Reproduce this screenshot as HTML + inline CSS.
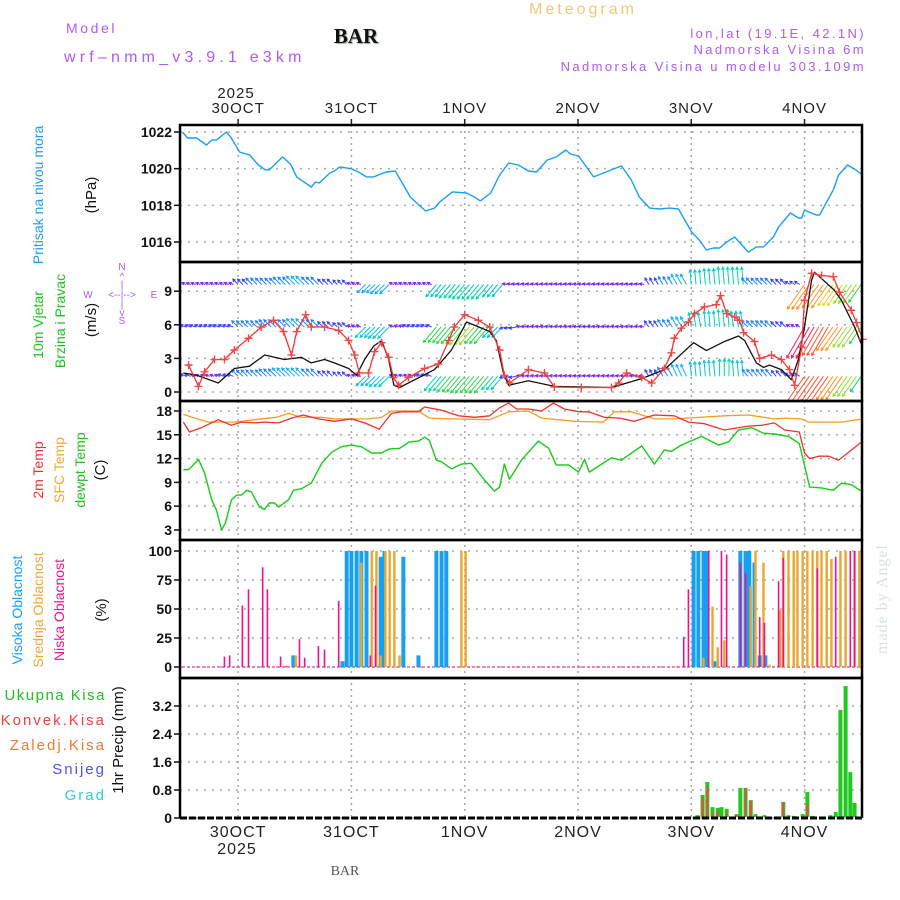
<!DOCTYPE html>
<html><head><meta charset="utf-8"><title>Meteogram BAR</title>
<style>
html,body{margin:0;padding:0;background:#fff;}
svg{display:block;font-family:"Liberation Sans",sans-serif;}
</style></head>
<body>
<svg id="chart" width="900" height="900" viewBox="0 0 900 900" xmlns="http://www.w3.org/2000/svg">
<g id="grid"></g>
<g id="marks"></g>
<g id="frames"></g>
<g id="labels"></g>
<g>
 <text x="66" y="33" font-size="14" fill="#b05af0" letter-spacing="2.6">Model</text>
 <text x="64" y="62" font-size="16" fill="#b05af0" letter-spacing="4.2">wrf–nmm_v3.9.1 e3km</text>
 <text x="356" y="43" font-size="21" font-weight="bold" font-family="Liberation Serif, serif" text-anchor="middle" fill="#111" style="text-shadow:1px 1px 1px #9a9">BAR</text>
 <text x="583" y="14" font-size="16" fill="#f0c878" text-anchor="middle" letter-spacing="3">Meteogram</text>
 <text x="866" y="38" font-size="13" fill="#b05af0" text-anchor="end" letter-spacing="2.4">lon,lat (19.1E, 42.1N)</text>
 <text x="866" y="54" font-size="13" fill="#b05af0" text-anchor="end" letter-spacing="2.4">Nadmorska Visina 6m</text>
 <text x="866" y="71" font-size="13" fill="#b05af0" text-anchor="end" letter-spacing="2.4">Nadmorska Visina u modelu 303.109m</text>
 <text x="236" y="98" font-size="15" fill="#222" text-anchor="middle" letter-spacing="1">2025</text>
 <text x="237" y="854" font-size="16" fill="#222" text-anchor="middle" letter-spacing="1">2025</text>
 <text x="345" y="875" font-size="14" fill="#555" text-anchor="middle" font-family="Liberation Serif, serif">BAR</text>
 <text transform="translate(887,654) rotate(-90)" font-size="16" fill="#d8e4d8" font-family="Liberation Serif, serif" letter-spacing="1">made by Angel</text>
</g>
<g>
 <text transform="translate(43,195) rotate(-90)" font-size="14" fill="#1aa0f0" text-anchor="middle">Pritisak na nivou mora</text>
 <text transform="translate(96,195) rotate(-90)" font-size="15" fill="#111" text-anchor="middle">(hPa)</text>
 <text transform="translate(43,325) rotate(-90)" font-size="14" fill="#20c020" text-anchor="middle">10m Vjetar</text>
 <text transform="translate(65,321) rotate(-90)" font-size="14" fill="#20c020" text-anchor="middle">Brzina i Pravac</text>
 <text transform="translate(96,320) rotate(-90)" font-size="15" fill="#111" text-anchor="middle">(m/s)</text>
 <g fill="#b05af0" font-size="10" text-anchor="middle">
  <text x="122" y="270">N</text><text x="122" y="280">^</text><text x="122" y="288">|</text>
  <text x="88" y="298">W</text><text x="122" y="298">&lt;--|--&gt;</text><text x="154" y="298">E</text>
  <text x="122" y="308">|</text><text x="122" y="316">v</text><text x="122" y="324">S</text>
 </g>
 <text transform="translate(43,470) rotate(-90)" font-size="14" fill="#f03030" text-anchor="middle">2m Temp</text>
 <text transform="translate(64,470) rotate(-90)" font-size="14" fill="#f0a830" text-anchor="middle">SFC Temp</text>
 <text transform="translate(85,470) rotate(-90)" font-size="14" fill="#20c020" text-anchor="middle">dewpt Temp</text>
 <text transform="translate(105,470) rotate(-90)" font-size="15" fill="#111" text-anchor="middle">(C)</text>
 <text transform="translate(22,610) rotate(-90)" font-size="14" fill="#1aa0f0" text-anchor="middle">Visoka Oblacnost</text>
 <text transform="translate(43,610) rotate(-90)" font-size="14" fill="#f0a830" text-anchor="middle">Srednja Oblacnost</text>
 <text transform="translate(64,610) rotate(-90)" font-size="14" fill="#f01090" text-anchor="middle">Niska Oblacnost</text>
 <text transform="translate(106,610) rotate(-90)" font-size="15" fill="#111" text-anchor="middle">(%)</text>
 <text x="106" y="700" font-size="15" fill="#20c020" text-anchor="end" letter-spacing="1.5">Ukupna Kisa</text>
 <text x="106" y="725" font-size="15" fill="#f04040" text-anchor="end" letter-spacing="2">Konvek.Kisa</text>
 <text x="106" y="750" font-size="15" fill="#f07830" text-anchor="end" letter-spacing="2">Zaledj.Kisa</text>
 <text x="106" y="774" font-size="15" fill="#5050f0" text-anchor="end" letter-spacing="2">Snijeg</text>
 <text x="106" y="800" font-size="15" fill="#30d0d0" text-anchor="end" letter-spacing="2">Grad</text>
 <text transform="translate(123,740) rotate(-90)" font-size="15" fill="#111" text-anchor="middle">1hr Precip (mm)</text>
</g>
</svg>
<script>
// ---------- data ----------
const dayHours = [12, 36, 60, 84, 108, 132];
const dayLabels = ["30OCT", "31OCT", "1NOV", "2NOV", "3NOV", "4NOV"];
const pressTicks = [1016, 1018, 1020, 1022];
const windTicks = [0, 3, 6, 9];
const tempTicks = [3, 6, 9, 12, 15, 18];
const cloudTicks = [0, 25, 50, 75, 100];
const precipTicks = [0, 0.8, 1.6, 2.4, 3.2];
const precipTickLabels = ["0", "0.8", "1.6", "2.4", "3.2"];

const pressHours = [0.2,1.3,3.2,5.3,6.4,7.4,9.5,10.4,12.3,14.4,16.3,17.8,18.6,21.4,23.1,24.4,27.5,28.4,29.2,31.4,32.4,33.5,36.0,37.5,39.2,40.7,43.4,45.3,48.5,51.7,53.6,54.7,57.4,60.4,62.1,63.3,65.5,67.4,69.3,71.4,73.5,75.2,77.5,79.4,81.4,82.4,84.1,87.3,93.2,95.3,97.0,99.2,101.3,103.4,105.3,108.1,109.7,111.2,112.7,114.0,115.5,117.2,120.1,121.8,123.3,125.4,126.5,129.0,130.7,131.4,132.0,134.5,135.2,138.1,139.2,141.1,142.6,144.3];
const pressVals = [1022.0,1021.67,1021.67,1021.29,1021.56,1021.56,1022.0,1021.73,1020.91,1020.75,1020.2,1019.93,1019.93,1020.64,1020.25,1019.55,1019.0,1019.27,1019.22,1019.76,1019.87,1020.09,1020.0,1019.82,1019.55,1019.55,1019.82,1019.87,1018.45,1017.69,1017.85,1018.18,1018.73,1018.67,1018.45,1018.24,1018.67,1019.65,1020.31,1020.2,1019.87,1019.82,1020.47,1020.64,1021.02,1020.8,1020.69,1019.55,1020.15,1019.38,1018.45,1017.85,1017.8,1017.85,1017.8,1016.54,1016.1,1015.56,1015.67,1015.67,1016.0,1016.27,1015.45,1015.73,1015.73,1016.27,1016.82,1017.58,1017.31,1017.31,1017.74,1017.47,1017.47,1018.84,1019.65,1020.2,1019.98,1019.65];

const speedHours = [0.4,3.2,7.8,11.2,14.4,17.6,21.8,25.4,27.5,30.3,32.4,35.4,37.1,38.8,40.7,42.4,43.9,45.0,46.2,53.6,57.2,60.4,65.3,66.7,68.2,69.3,73.5,79.0,91.1,97.5,102.3,108.5,111.2,115.0,118.0,119.3,121.8,123.3,124.6,127.1,129.2,130.7,132.0,133.5,134.1,138.3,139.8,142.6,144.3];
const speedVals = [1.7,1.5,0.8,2.1,2.3,3.3,2.9,3.1,2.6,2.9,2.6,2.1,1.5,2.9,4.1,4.6,2.9,0.6,0.4,2.0,3.75,6.25,5.4,4.6,1.7,0.6,1.0,0.5,0.4,1.2,2.0,4.4,3.7,4.5,5.0,4.6,2.6,2.2,2.4,2.0,1.1,2.9,5.8,10.0,10.7,9.1,8.2,5.8,4.0];

const gustHours = [1.5,3.6,4.9,7.0,9.1,11.2,14.2,16.9,19.5,21.6,23.3,24.4,26.3,27.5,30.3,33.3,35.4,36.7,37.7,39.6,40.9,42.4,43.9,44.9,46.0,48.1,51.5,54.4,56.6,57.8,60.0,62.9,65.3,67.4,68.4,69.5,73.5,76.9,79.0,84.7,91.1,92.6,94.3,97.5,99.6,102.3,103.8,104.4,105.9,107.4,108.7,110.8,113.3,114.2,115.5,117.2,118.2,119.1,121.4,122.5,125.0,127.1,128.8,129.9,131.4,132.0,133.5,135.6,138.1,139.4,141.9,143.0,144.3];
const gustVals = [2.4,0.5,1.8,2.9,2.9,3.75,4.8,5.8,6.4,5.4,3.3,5.4,6.9,5.8,5.8,5.5,4.6,3.3,1.7,1.7,3.6,4.4,3.1,1.3,0.6,1.3,2.1,2.5,4.6,5.8,6.9,6.4,5.8,3.75,1.5,0.8,2.0,1.7,0.45,0.4,0.4,0.8,1.7,1.3,0.8,2.1,3.5,4.8,5.7,6.25,7.0,7.6,7.8,8.6,7.0,6.7,6.4,5.3,4.5,3.0,3.3,2.9,2.0,0.6,4.0,8.2,10.6,10.4,10.3,8.9,7.3,6.2,4.7];

// wind arrows: 3-hourly samples (h = 0,3,...,144) for three rows
const windRowLevels = [9.6, 5.8, 1.4];
const windSpeedTop = [2,2,2,2,4,5,5,6,7,6,4,3,2,7,8,2,2,2,10,11,12,12,10,2,2,2,2,2,2,2,2,2,2,4,5,7,9,10,11,11,5,5,4,3,20,19,17,15,14];
const windSpeedMid = [3,3,3,3,5,5,6,6,7,6,4,3,2,9,10,2,3,3,13,14,15,14,9,4,2,2,2,2,2,2,2,2,2,4,5,7,9,10,11,10,5,5,4,2,24,22,19,16,13];
const windSpeedLow = [3,2,2,3,5,5,6,7,7,6,4,3,2,8,9,2,2,3,12,13,14,14,11,4,2,2,2,2,2,2,2,2,2,4,6,8,9,10,11,10,5,5,4,3,22,21,19,16,12];
const windDirTop = [290,290,290,290,315,315,315,315,315,315,315,315,290,225,225,290,290,290,220,220,220,220,220,280,280,280,280,280,280,280,280,280,280,330,330,330,355,355,355,355,315,315,315,300,215,215,215,215,215];
const windDirMid = [290,290,290,290,315,315,315,315,315,315,315,315,290,225,225,290,290,290,220,220,220,220,225,260,280,280,280,280,280,280,280,280,280,325,325,330,350,355,355,350,315,315,315,300,210,210,215,215,215];
const windDirLow = [290,290,290,290,315,315,315,315,315,315,315,315,290,225,225,290,290,290,220,220,220,220,220,260,280,280,280,280,280,280,280,280,280,330,330,335,355,355,0,355,320,320,320,300,215,215,215,215,215];

const t2Hours = [0.4,1.7,4.2,7.8,10.6,12.7,15.5,17.6,20.6,23.3,25.8,29.0,32.4,36.0,38.8,41.9,44.5,46.6,50.2,51.5,55.1,58.7,62.1,65.3,67.4,69.3,71.0,73.5,76.3,78.8,81.1,84.3,86.2,89.6,92.8,95.9,100.2,104.4,107.4,110.8,115.0,120.1,122.9,125.6,127.8,130.9,132.0,133.1,135.0,137.1,139.2,144.3];
const t2Vals = [16.6,15.35,15.9,16.9,16.2,16.6,16.5,16.6,16.5,17.1,17.5,17.0,16.7,17.0,16.5,15.7,17.7,17.9,17.9,18.5,18.1,17.4,17.2,17.4,18.4,19.0,18.25,18.25,18.0,19.0,18.25,17.9,17.9,17.2,17.1,16.7,17.5,17.4,16.6,16.4,15.6,16.1,16.2,16.5,15.6,15.35,12.7,12.0,12.3,12.3,11.8,14.2];
const sfcHours = [0.4,2.8,5.7,11.2,15.5,20.1,22.7,25.4,29.7,32.4,39.6,42.4,44.5,50.2,52.5,57.2,65.3,69.3,73.5,76.3,83.3,89.4,91.7,95.3,100.2,104.4,115.0,120.1,125.6,127.8,131.4,132.8,139.8,144.3];
const sfcVals = [17.6,17.1,16.6,16.6,16.9,17.2,17.7,17.2,17.2,17.0,17.0,17.2,18.0,18.0,17.1,17.0,16.9,17.9,18.0,17.1,16.7,16.6,17.9,17.9,17.0,17.0,17.4,17.5,17.0,17.1,17.0,16.6,16.6,17.0];
const dewHours = [0.4,1.5,3.6,4.9,6.4,7.4,8.5,9.3,10.6,11.7,12.7,13.8,14.8,16.5,17.6,18.6,19.7,20.6,22.7,23.7,25.4,27.5,29.7,31.8,33.9,36.0,38.1,40.3,42.4,43.9,46.2,48.3,50.2,51.5,52.5,54.0,55.1,57.2,59.3,61.4,64.2,66.3,67.4,68.4,69.5,72.0,75.6,77.8,79.4,82.0,84.1,85.4,86.4,91.1,93.2,97.5,100.2,102.3,103.8,105.9,110.2,113.8,115.9,118.0,120.8,123.3,125.6,128.6,130.9,133.1,135.6,138.1,139.8,141.9,144.3];
const dewVals = [10.6,10.6,11.9,10.2,6.8,5.5,3.0,3.9,6.8,7.4,7.4,8.0,7.8,5.9,5.6,6.4,6.4,5.9,6.8,8.0,8.2,8.9,11.4,12.8,13.5,13.7,13.5,12.7,12.7,13.2,13.3,14.1,14.2,14.7,14.3,11.8,11.6,10.7,11.3,11.4,9.3,7.9,8.4,11.3,9.4,11.8,14.2,13.3,11.2,11.2,10.3,11.9,10.3,12.1,11.8,13.6,11.3,13.1,12.9,13.7,14.8,13.7,14.1,15.6,15.9,15.2,15.1,14.8,13.9,8.4,8.3,8.0,8.9,8.7,7.8];

const highCloudHours = [23.7,34.1,35.0,36.0,37.1,38.1,39.2,42.2,43.0,47.0,50.2,54.0,55.1,56.1,108.5,109.5,110.6,111.4,112.9,118.4,119.5,120.3,121.4,122.5,123.7];
const highCloudVals = [10,5,100,100,100,100,100,95,100,95,10,100,100,100,100,100,100,100,5,100,100,100,90,10,10];
const midCloudHours = [24.2,38.1,40.3,41.3,42.2,43.2,44.1,45.1,46.2,59.3,60.2,110.6,112.5,113.6,115.0,120.6,121.6,123.3,124.6,126.9,127.5,128.6,129.7,130.5,131.6,132.6,133.7,134.7,135.6,136.7,137.7,139.6,140.7,142.6,143.6];
const midCloudVals = [10,90,100,100,10,100,100,100,10,100,100,8,52,17,23,70,100,90,2,49,100,100,100,100,100,100,100,100,100,100,93,100,100,100,100];
const lowCloudHours = [9.1,10.2,12.9,14.2,17.2,18.2,21.0,22.2,25.0,26.1,29.0,30.3,33.3,40.0,41.1,106.4,107.4,111.7,114.4,115.5,118.4,119.5,122.5,123.5,126.5,127.5,134.7,138.6,141.7,142.6];
const lowCloudVals = [9,10,53,67,86,67,9,1,24,8,18,15,57,10,70,26,67,100,100,97,90,81,43,38,74,94,85,95,100,100];

const precipHours = [30.1,109.3,110.4,111.4,112.5,113.6,114.4,115.5,116.5,117.6,118.4,119.5,120.6,121.6,123.5,127.5,128.6,129.7,131.6,132.6,133.7,137.5,138.6,139.6,140.7,141.7,142.6];
const precipVals = [0.02,0.08,0.66,1.03,0.31,0.29,0.31,0.26,0.03,0.11,0.86,0.86,0.51,0.11,0.08,0.46,0.08,0.06,0.11,0.74,0.06,0.08,0.17,3.09,3.77,1.31,0.43];
const convHours = [110.4,111.4,112.5,113.6,115.5,117.6,119.5,120.6,127.5,132.6];
const convVals = [0.6,0.9,0.15,0.2,0.15,0.1,0.86,0.5,0.45,0.4];

// ---------- scales ----------
const L = 180, R = 862;
const X = h => 181.5 + h * 4.72;
const yP = v => 132 + (1022 - v) * 18.33;
const yW = v => 392 - v * 11.2;
const yT = v => 411 + (18 - v) * 7.93;
const yC = v => 667 - v * 1.16;
const yR = v => 818 - v * 35;
const panels = [[125, 262], [262, 401], [401, 540], [540, 678], [678, 818]];

const NS = "http://www.w3.org/2000/svg";
function mk(parent, tag, attrs) {
  const e = document.createElementNS(NS, tag);
  for (const k in attrs) e.setAttribute(k, attrs[k]);
  parent.appendChild(e);
  return e;
}
const gGrid = document.getElementById('grid');
const gMarks = document.getElementById('marks');
const gFrames = document.getElementById('frames');
const gLab = document.getElementById('labels');

dayHours.forEach((h, i) => {
  const x = X(h);
  const gl = mk(gGrid, 'line', {x1: x, x2: x, y1: 125, y2: 818, stroke: '#a8a8a8', 'stroke-width': 1.5, 'stroke-dasharray': '2,4'});
  
  
  const tt = mk(gLab, 'text', {x: x, y: 113, 'font-size': 15, fill: '#222', 'text-anchor': 'middle', 'letter-spacing': 1});
  tt.textContent = dayLabels[i];
  
  
  const tb = mk(gLab, 'text', {x: x, y: 837, 'font-size': 16, fill: '#222', 'text-anchor': 'middle', 'letter-spacing': 1});
  tb.textContent = dayLabels[i];
  
  
  const tk = mk(gFrames, 'line', {x1: x, x2: x, y1: 119, y2: 125, stroke: '#222', 'stroke-width': 1.5});
  
  
});

function yAxis(ticks, labels, yf, name) {
  ticks.forEach((t, i) => {
    const y = yf(t);
    const gl = mk(gGrid, 'line', {x1: L, x2: R, y1: y, y2: y, stroke: '#a8a8a8', 'stroke-width': 1.5, 'stroke-dasharray': '2,6'});
    
    
    const tk = mk(gFrames, 'line', {x1: L - 6, x2: L, y1: y, y2: y, stroke: '#111', 'stroke-width': 1.5});
    
    
    const tx = mk(gLab, 'text', {x: L - 8, y: y + 5, 'font-size': 14, fill: '#111', 'text-anchor': 'end', 'font-weight': 'bold'});
    tx.textContent = labels ? labels[i] : String(t);
    
    
  });
}
yAxis(pressTicks, null, yP, 'pressure-axis');
yAxis(windTicks, null, yW, 'wind-axis');
yAxis(tempTicks, null, yT, 'temp-axis');
yAxis(cloudTicks, null, yC, 'cloud-axis');
yAxis(precipTicks, precipTickLabels, yR, 'precip-axis');

panels.forEach((p, i) => {
  if (i === 4) {
    const t = mk(gFrames, 'path', {d: `M${L},818V${p[0]}H${R}V818`, fill: 'none', stroke: '#000', 'stroke-width': 2.5});
    
    
    return;
  }
  const r = mk(gFrames, 'rect', {x: L, y: p[0], width: R - L, height: p[1] - p[0], fill: 'none', stroke: '#000', 'stroke-width': 2.5});
  
  
});
const pb = mk(gFrames, 'line', {x1: L, x2: R, y1: 818, y2: 818, stroke: '#000', 'stroke-width': 3, 'stroke-dasharray': '7,2'});



function line(hs, vs, yf, color, w, name) {
  const d = hs.map((h, i) => (i ? 'L' : 'M') + X(h).toFixed(1) + ',' + yf(vs[i]).toFixed(1)).join('');
  const p = mk(gMarks, 'path', {d: d, fill: 'none', stroke: color, 'stroke-width': w, 'stroke-linejoin': 'round'});
  
  
  return p;
}

const defs = mk(document.getElementById('chart'), 'defs', {});
const cp = mk(defs, 'clipPath', {id: 'wclip'});
mk(cp, 'rect', {x: L, y: 262, width: R - L, height: 139});

line(pressHours, pressVals, yP, '#18a0f8', 1.4, 'pressure-line');

const windColors = ['#8a10e0','#7a20f0','#3a40ff','#2080ff','#10b0f8','#00c8d8','#00d8a0','#30d850','#90e030','#e8d020','#ff9020','#ff5030','#ff1860'];
function windColor(s) {
  const i = Math.min(windColors.length - 1, Math.max(0, Math.round(s / 2)));
  return windColors[i];
}
const gWind = mk(gMarks, 'g', {'clip-path': 'url(#wclip)'});


const rows = [[windSpeedTop, windDirTop], [windSpeedMid, windDirMid], [windSpeedLow, windDirLow]];
rows.forEach((row, ri) => {
  const base = yW(windRowLevels[ri]);
  row[0].forEach((s, i) => {
    for (let k = 0; k < 3; k++) {
      const h = i * 3 + k;
      if (h > 144.3) continue;
      const a = row[1][i] * Math.PI / 180;
      const len = 2 + s * 1.4;
      const x0 = X(h), y0 = base;
      const x1 = x0 + Math.sin(a) * len, y1 = y0 - Math.cos(a) * len;
      const c = windColor(s);
      const hl = 3, b = a + Math.PI;
      const hx1 = x1 + Math.sin(b + 0.5) * hl, hy1 = y1 - Math.cos(b + 0.5) * hl;
      const hx2 = x1 + Math.sin(b - 0.5) * hl, hy2 = y1 - Math.cos(b - 0.5) * hl;
      const ar = mk(gWind, 'path', {d: `M${x0.toFixed(1)},${y0.toFixed(1)}L${x1.toFixed(1)},${y1.toFixed(1)}M${hx1.toFixed(1)},${hy1.toFixed(1)}L${x1.toFixed(1)},${y1.toFixed(1)}L${hx2.toFixed(1)},${hy2.toFixed(1)}`, stroke: c, 'stroke-width': 1, fill: 'none'});
      
      
    }
  });
});

line(speedHours, speedVals, yW, '#111', 1.3, 'wind-speed-line');
line(gustHours, gustVals, yW, '#f03838', 1.3, 'wind-gust-line');
gustHours.forEach((h, i) => {
  const x = X(h), y = yW(gustVals[i]);
  const m = mk(gMarks, 'path', {d: `M${x - 4},${y}H${x + 4}M${x},${y - 4}V${y + 4}`, stroke: '#f04848', 'stroke-width': 1.4});
  
  
});

line(sfcHours, sfcVals, yT, '#f0a020', 1.3, 'sfc-temp-line');
line(t2Hours, t2Vals, yT, '#f03030', 1.3, '2m-temp-line');
line(dewHours, dewVals, yT, '#18cc18', 1.4, 'dewpoint-line');

const cb = mk(gMarks, 'line', {x1: L + 2, x2: R - 2, y1: 667, y2: 667, stroke: '#e060a0', 'stroke-width': 1.5, 'stroke-dasharray': '3,2'});


function bars(hs, vs, yf, base, color, w, name) {
  hs.forEach((h, i) => {
    const y = yf(vs[i]);
    const r = mk(gMarks, 'rect', {x: X(h) - w / 2, y: y, width: w, height: Math.max(0.5, base - y), fill: color});
    
    
  });
}
bars(highCloudHours, highCloudVals, yC, 667, '#18a0f0', 4, 'high-cloud-bar');
bars(midCloudHours, midCloudVals, yC, 667, '#e8a830', 2.4, 'mid-cloud-bar');
bars(lowCloudHours, lowCloudVals, yC, 667, '#f01090', 1.6, 'low-cloud-bar');

bars(precipHours, precipVals, yR, 817, '#20c820', 4, 'total-precip-bar');
bars(convHours, convVals, yR, 817, '#f04848', 2, 'convective-precip-bar');
</script>
</body></html>
